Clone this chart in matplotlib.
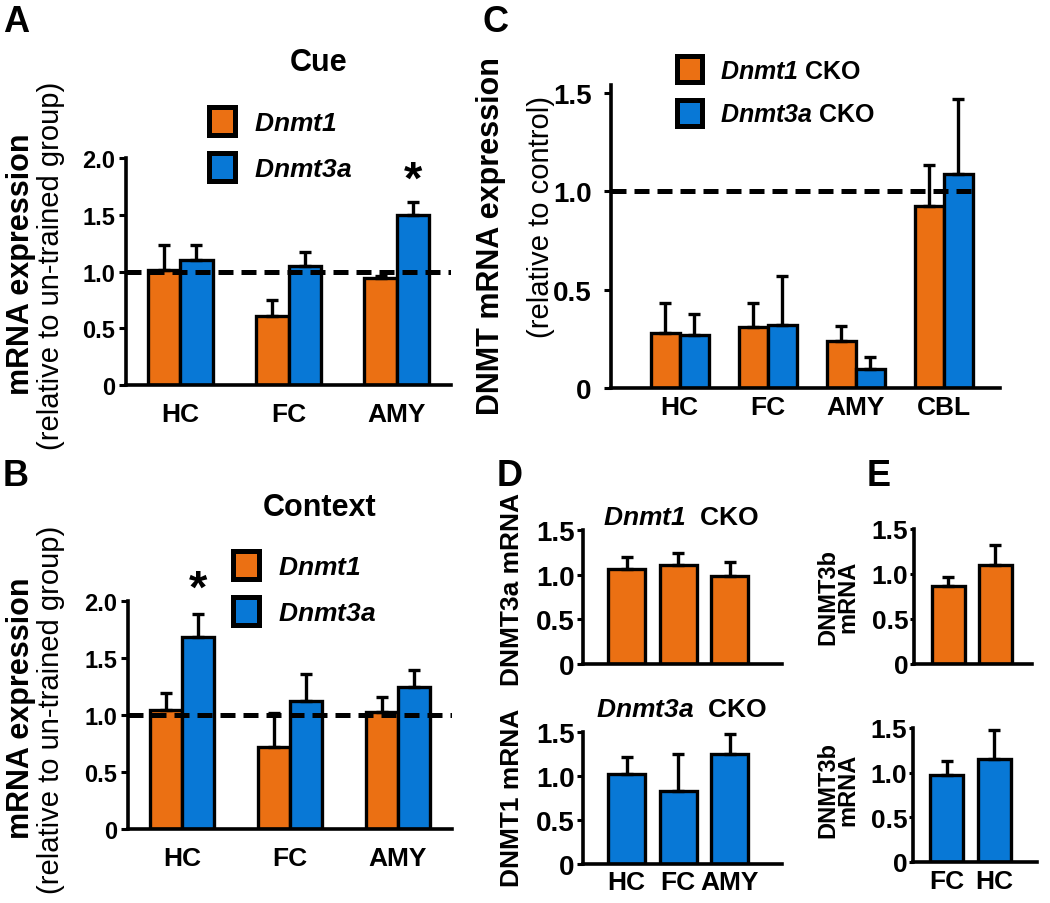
import numpy as np
import matplotlib
matplotlib.use('Agg')
import matplotlib.pyplot as plt
from matplotlib.patches import Patch

plt.rcParams['font.family'] = ['Liberation Sans', 'DejaVu Sans']
plt.rcParams['font.weight'] = 'bold'
plt.rcParams['mathtext.fontset'] = 'custom'
plt.rcParams['mathtext.it'] = 'Liberation Sans:italic:bold'
plt.rcParams['mathtext.rm'] = 'Liberation Sans:italic:bold'

ORANGE = '#EB7013'
BLUE = '#0878D6'

# ---- data ----
regions3 = ['HC', 'FC', 'AMY']
regions4 = ['HC', 'FC', 'AMY', 'CBL']
regions_e = ['FC', 'HC']

# A: cue
cue_dnmt1 = [1.01, 0.61, 0.94]
cue_dnmt1_sem = [0.22, 0.14, 0.02]
cue_dnmt3a = [1.10, 1.05, 1.50]
cue_dnmt3a_sem = [0.13, 0.12, 0.11]

# B: context
ctx_dnmt1 = [1.04, 0.72, 1.03]
ctx_dnmt1_sem = [0.15, 0.30, 0.13]
ctx_dnmt3a = [1.68, 1.12, 1.245]
ctx_dnmt3a_sem = [0.21, 0.24, 0.15]

# C: knockouts
cko_dnmt1 = [0.28, 0.31, 0.237, 0.924]
cko_dnmt1_sem = [0.15, 0.12, 0.08, 0.21]
cko_dnmt3a = [0.267, 0.318, 0.098, 1.088]
cko_dnmt3a_sem = [0.11, 0.25, 0.06, 0.38]

# D
d_dnmt3a_in_dnmt1cko = [1.06, 1.11, 0.98]
d_dnmt3a_in_dnmt1cko_sem = [0.14, 0.13, 0.16]
d_dnmt1_in_dnmt3acko = [1.02, 0.83, 1.25]
d_dnmt1_in_dnmt3acko_sem = [0.20, 0.42, 0.23]

# E
e_dnmt3b_top = [0.87, 1.10]
e_dnmt3b_top_sem = [0.10, 0.22]
e_dnmt3b_bot = [0.97, 1.15]
e_dnmt3b_bot_sem = [0.16, 0.33]

W, H = 1050, 904
fig = plt.figure(figsize=(W / 100, H / 100), dpi=100)


def add_ax(l, r, y0, ytop, ymax):
    ax = fig.add_axes([l / W, 1 - y0 / H, (r - l) / W, (y0 - ytop) / H])
    ax.set_ylim(0, ymax)
    for s in ['top', 'right']:
        ax.spines[s].set_visible(False)
    for s in ['left', 'bottom']:
        ax.spines[s].set_linewidth(2.6)
    ax.tick_params(axis='x', length=0)
    ax.tick_params(axis='y', direction='out', width=2.2)
    return ax


def bars(ax, x, vals, sem, color, width):
    ax.bar(x, vals, width, color=color, edgecolor='black', linewidth=2.4, zorder=2)
    ax.errorbar(x, vals, yerr=[np.zeros(len(vals)), sem], fmt='none', ecolor='black',
                elinewidth=2.4, capsize=4, capthick=2.4, zorder=3)


def ftext(x, y, s, **kw):
    fig.text(x / W, 1 - y / H, s, **kw)


def legend(ax, labels, x, y, fs):
    handles = [Patch(facecolor=ORANGE, edgecolor='black', linewidth=3.6),
               Patch(facecolor=BLUE, edgecolor='black', linewidth=3.6)]
    leg = ax.legend(handles, labels, loc='upper left', bbox_to_anchor=(x / W, 1 - y / H),
                    bbox_transform=fig.transFigure, frameon=False, fontsize=fs,
                    handlelength=1.0, handleheight=1.25, labelspacing=0.68,
                    handletextpad=0.7, borderpad=0, borderaxespad=0)
    return leg


# ---- A and B ----
for (vals1, sem1, vals2, sem2, box, title, title_y, star_x, star_y, leg_xy) in [
        (cue_dnmt1, cue_dnmt1_sem, cue_dnmt3a, cue_dnmt3a_sem, (126, 451, 386, 159),
         'Cue', 63, 2.15, 1.80, (209, 108)),
        (ctx_dnmt1, ctx_dnmt1_sem, ctx_dnmt3a, ctx_dnmt3a_sem, (128, 452, 830, 602),
         'Context', 508, 0.15, 2.10, (233, 552))]:
    ax = add_ax(*box, 2.0)
    x = np.arange(len(regions3))
    bars(ax, x - 0.15, vals1, sem1, ORANGE, 0.3)
    bars(ax, x + 0.15, vals2, sem2, BLUE, 0.3)
    ax.axhline(1.0, color='black', lw=3.6, ls=(0, (3, 1.6)), zorder=5)
    ax.set_xlim(-0.5, 2.5)
    ax.set_xticks(x)
    ax.set_xticklabels(regions3, fontsize=19)
    ax.tick_params(axis='x', pad=12)
    ax.set_yticks([0, 0.5, 1.0, 1.5, 2.0])
    ax.set_yticklabels(['0', '0.5', '1.0', '1.5', '2.0'], fontsize=17)
    ax.tick_params(axis='y', length=5, pad=3)
    ax.text(star_x, star_y, '*', fontsize=34, ha='center', va='center')
    legend(ax, [r'$\mathit{Dnmt1}$', r'$\mathit{Dnmt3a}$'], *leg_xy, 19)
    ftext((box[0] + box[1]) / 2 + 30, title_y, title, fontsize=22, ha='center', va='center')
    ftext(21, box[2] - 122, 'mRNA expression', fontsize=22, rotation=90, ha='center', va='center')
    ftext(51, box[2] - 120, '(relative to un-trained group)', fontsize=21, fontweight='normal',
          rotation=90, ha='center', va='center')

ftext(3, 22, 'A', fontsize=26, va='center', ha='left')
ftext(3, 476, 'B', fontsize=26, va='center', ha='left')

# ---- C ----
ax = add_ax(611, 1000, 389, 86, 1.54)
x = np.arange(len(regions4))
bars(ax, x - 0.165, cko_dnmt1, cko_dnmt1_sem, ORANGE, 0.33)
bars(ax, x + 0.165, cko_dnmt3a, cko_dnmt3a_sem, BLUE, 0.33)
ax.set_xlim(-0.78, 3.64)
ax.plot([-0.78, 3.33], [1.0, 1.0], color='black', lw=3.6, ls=(0, (3, 1.6)), zorder=5,
        clip_on=False)
ax.set_xticks(x)
ax.set_xticklabels(regions4, fontsize=19)
ax.tick_params(axis='x', pad=5)
ax.set_yticks([0, 0.5, 1.0, 1.5])
ax.set_yticklabels(['0', '0.5', '1.0', '1.5'], fontsize=20)
ax.tick_params(axis='y', length=5, pad=9)
legend(ax, [r'$\mathit{Dnmt1}$ CKO', r'$\mathit{Dnmt3a}$ CKO'], 677, 57, 18)
ftext(483, 22, 'C', fontsize=26, va='center', ha='left')
ftext(491, 236, 'DNMT mRNA expression', fontsize=22, rotation=90, ha='center', va='center')
ftext(541, 217, '(relative to control)', fontsize=21, fontweight='normal', rotation=90,
      ha='center', va='center')

# ---- D ----
for (vals, sem, color, box, title, title_y, ylab, ylab_y, show_x) in [
        (d_dnmt3a_in_dnmt1cko, d_dnmt3a_in_dnmt1cko_sem, ORANGE, (583, 782, 665, 531),
         r'$\mathit{Dnmt1}$  CKO', 518, 'DNMT3a mRNA', 590, False),
        (d_dnmt1_in_dnmt3acko, d_dnmt1_in_dnmt3acko_sem, BLUE, (583, 782, 865, 733),
         r'$\mathit{Dnmt3a}$  CKO', 710, 'DNMT1 mRNA', 798, True)]:
    ax = add_ax(*box, 1.5)
    x = np.arange(len(regions3))
    bars(ax, x, vals, sem, color, 0.72)
    ax.set_xlim(-0.85, 3.02)
    ax.set_xticks(x)
    ax.set_xticklabels(regions3 if show_x else [], fontsize=19)
    ax.tick_params(axis='x', pad=4)
    ax.set_yticks([0, 0.5, 1.0, 1.5])
    ax.set_yticklabels(['0', '0.5', '1.0', '1.5'], fontsize=20)
    ax.tick_params(axis='y', length=4, pad=2)
    ftext(681, title_y, title, fontsize=19, ha='center', va='center')
    ftext(512, ylab_y, ylab, fontsize=19, rotation=90, ha='center', va='center')

ftext(497, 476, 'D', fontsize=26, va='center', ha='left')

# ---- E ----
for (vals, sem, color, box, xlim, show_x, ylab_y) in [
        (e_dnmt3b_top, e_dnmt3b_top_sem, ORANGE, (914, 1032, 665, 530), (-0.73, 1.78), False, 597),
        (e_dnmt3b_bot, e_dnmt3b_bot_sem, BLUE, (913, 1037, 863, 729), (-0.7, 1.89), True, 790)]:
    ax = add_ax(*box, 1.5)
    x = np.arange(len(regions_e))
    bars(ax, x, vals, sem, color, 0.7)
    ax.set_xlim(*xlim)
    ax.set_xticks(x)
    ax.set_xticklabels(regions_e if show_x else [], fontsize=19)
    ax.tick_params(axis='x', pad=5)
    ax.set_yticks([0, 0.5, 1.0, 1.5])
    ax.set_yticklabels(['0', '0.5', '1.0', '1.5'], fontsize=19)
    ax.tick_params(axis='y', length=3, pad=1)
    ftext(838, ylab_y, 'DNMT3b\nmRNA', fontsize=17, rotation=90, ha='center', va='center',
          linespacing=0.8)

ftext(867, 476, 'E', fontsize=26, va='center', ha='left')

fig.savefig('out.png', dpi=100)
